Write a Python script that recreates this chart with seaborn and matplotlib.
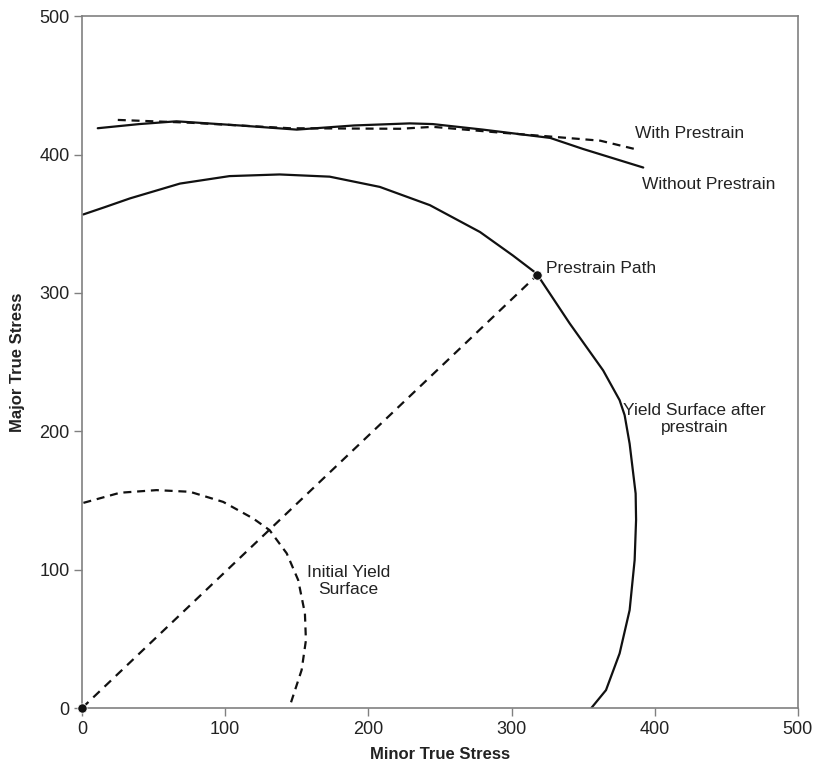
import matplotlib
matplotlib.use("Agg")
import matplotlib.pyplot as plt
import seaborn as sns
import pandas as pd

# Yield surface after prestrain (solid)
after_x = [0.9, 16, 33.5, 68.4, 103, 138, 173, 208, 243, 278, 301, 317.5, 340.6, 364, 375.5, 379,
           382.5, 386.7, 387, 386, 382.5, 375.5, 366, 355.7]
after_y = [356.7, 362, 368.3, 379, 384.4, 385.6, 384, 376.6, 363.4, 344, 327, 314, 278, 244, 222.5, 211.7,
           191, 155, 136, 107, 70.8, 39.5, 13, 0]

# Initial yield surface (dashed)
init_x = [1, 26.5, 52, 75.4, 98.6, 119.6, 131, 143, 151, 155.7, 156.4, 153.4, 145]
init_y = [148.3, 155.6, 157.5, 156.3, 149, 137, 128.6, 111.8, 92.5, 68.4, 49, 27.5, 1]

# Prestrain path
path_x = [0, 318]
path_y = [0, 313]

# Forming limit curves
without_x = [11, 40, 66, 110, 150, 190, 229, 245, 280, 327, 350, 392]
without_y = [419, 422, 424, 421, 418, 421, 422.5, 422, 418, 412, 404, 390.6]
with_x = [25, 75, 145, 222, 245, 290, 327, 362, 386]
with_y = [425, 423, 419, 418.6, 420, 416, 413, 410, 404]

xticks = [0, 100, 200, 300, 400, 500]
yticks = [0, 100, 200, 300, 400, 500]

sns.set_style("white")
plt.rcParams['font.family'] = ['Liberation Sans', 'DejaVu Sans']

fig = plt.figure(figsize=(8.2, 7.68), dpi=100)
ax = fig.add_axes([0.1, 0.078, 0.873, 0.901])

lw = 1.6
dash = (0, (3.6, 2.6))
common = dict(sort=False, estimator=None, errorbar=None, ax=ax, color="#111111", lw=lw)

df_after = pd.DataFrame({"x": after_x, "y": after_y})
sns.lineplot(data=df_after, x="x", y="y", **common)

df_init = pd.DataFrame({"x": init_x, "y": init_y})
sns.lineplot(data=df_init, x="x", y="y", **common)
ax.lines[-1].set_linestyle(dash)

df_path = pd.DataFrame({"x": path_x, "y": path_y})
sns.lineplot(data=df_path, x="x", y="y", **common)
ax.lines[-1].set_linestyle((0, (4, 3)))
sns.scatterplot(data=df_path, x="x", y="y", ax=ax, color="#111111", s=45, zorder=5, clip_on=False)

df_wo = pd.DataFrame({"x": without_x, "y": without_y})
sns.lineplot(data=df_wo, x="x", y="y", **common)

df_w = pd.DataFrame({"x": with_x, "y": with_y})
sns.lineplot(data=df_w, x="x", y="y", **common)
ax.lines[-1].set_linestyle(dash)

for ln in ax.lines:
    ln.set_solid_joinstyle("round")
    ln.set_dash_joinstyle("round")

ax.set_xlim(0, 500)
ax.set_ylim(0, 500)
ax.set_xticks(xticks)
ax.set_yticks(yticks)
ax.tick_params(axis="both", which="major", bottom=True, left=True, top=False, right=False,
               direction="out", length=6, width=1, color="#808080",
               labelsize=13, labelcolor="#222222", pad=3)
for s in ax.spines.values():
    s.set_color("#808080")
    s.set_linewidth(1.2)

lab_font = dict(fontsize=12, fontweight="bold", color="#222222",
                family=['Liberation Sans Narrow', 'Liberation Sans', 'DejaVu Sans'])
ax.set_xlabel("Minor True Stress", labelpad=7, **lab_font)
ax.set_ylabel("Major True Stress", labelpad=10, **lab_font)

tk = dict(fontsize=12.5, color="#222222")
ax.text(386, 415, "With Prestrain", ha="left", va="center", **tk)
ax.text(391, 378.5, "Without Prestrain", ha="left", va="center", **tk)
ax.text(324, 318, "Prestrain Path", ha="left", va="center", **tk)
ax.text(428, 209, "Yield Surface after\nprestrain", ha="center", va="center", linespacing=1.15, **tk)
ax.text(186, 92, "Initial Yield\nSurface", ha="center", va="center", linespacing=1.15, **tk)

fig.savefig("out.png", dpi=100)
